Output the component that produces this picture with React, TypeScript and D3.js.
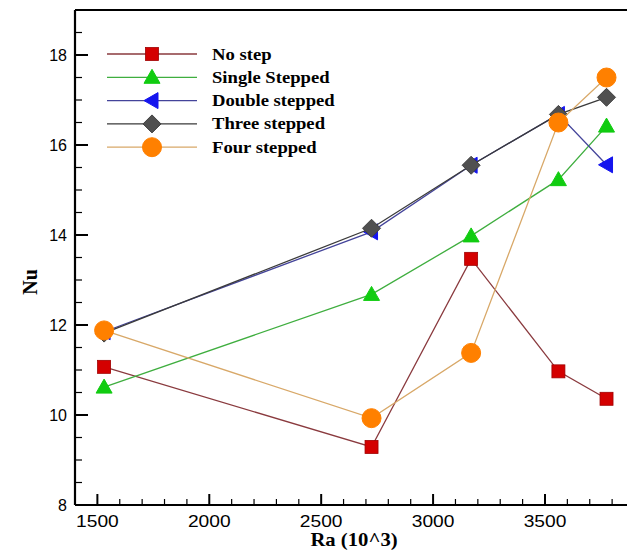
import React from "react";
import * as d3 from "d3";

const ra = [1530, 2725, 3170, 3560, 3775];
const noStep = [11.07, 9.29, 13.47, 10.97, 10.36];
const singleStepped = [10.62, 12.68, 13.98, 15.23, 16.42];
const doubleStepped = [11.85, 14.07, 15.55, 16.68, 15.56];
const threeStepped = [11.82, 14.15, 15.55, 16.68, 17.06];
const fourStepped = [11.88, 9.93, 11.38, 16.5, 17.5];
const seriesNames = ["No step", "Single Stepped", "Double stepped", "Three stepped", "Four stepped"];
const xTicks = [1500, 2000, 2500, 3000, 3500];
const yTicks = [8, 10, 12, 14, 16, 18];

const W = 627;
const H = 553;
const L = 75, T = 10, B = 505;

const series = [
  { name: seriesNames[0], values: noStep, line: "#8a3a3e", fill: "#d40000", stroke: "#a00000", shape: "square" },
  { name: seriesNames[1], values: singleStepped, line: "#3fae3f", fill: "#11cc11", stroke: "#11cc11", shape: "triangle" },
  { name: seriesNames[2], values: doubleStepped, line: "#44449a", fill: "#1515ee", stroke: "#1515ee", shape: "leftTriangle" },
  { name: seriesNames[3], values: threeStepped, line: "#3a3a3a", fill: "#505050", stroke: "#404040", shape: "diamond" },
  { name: seriesNames[4], values: fourStepped, line: "#d8a868", fill: "#ff8000", stroke: "#ff8000", shape: "circle" },
];

function Marker({ shape, x, y, fill, stroke }: any) {
  if (shape === "square") return <rect x={x - 6.5} y={y - 6.5} width={13} height={13} fill={fill} stroke={stroke} strokeWidth={0.8} />;
  if (shape === "triangle") return <path d={`M${x},${y - 8} L${x + 8},${y + 6} L${x - 8},${y + 6} Z`} fill={fill} stroke={stroke} />;
  if (shape === "leftTriangle") return <path d={`M${x - 8},${y} L${x + 6},${y - 8} L${x + 6},${y + 8} Z`} fill={fill} stroke={stroke} />;
  if (shape === "diamond") return <path d={`M${x},${y - 9} L${x + 9},${y} L${x},${y + 9} L${x - 9},${y} Z`} fill={fill} stroke={stroke} />;
  return <circle cx={x} cy={y} r={9.5} fill={fill} stroke={stroke} />;
}

export default function App() {
  const x = d3.scaleLinear().domain([1400, 3900]).range([L, L + 2500 * 0.2238]);
  const y = d3.scaleLinear().domain([8, 19]).range([B, T]);
  const xMinor = d3.range(1400, 3900, 100).filter((v) => v % 500 !== 0);
  const yMinor = d3.range(8, 19.01, 0.5).filter((v) => v % 2 !== 0);
  const line = d3.line<number>().x((_, i) => x(ra[i])).y((v) => y(v));
  const legX1 = 107, legX2 = 197, legY0 = 54, legDy = 23.3;

  return (
    <svg width={W} height={H} style={{ position: "absolute", left: 0, top: 0, background: "#fff" }}>
      <rect width={W} height={H} fill="#fff" />
      {/* frame */}
      <line x1={L} x2={W} y1={B} y2={B} stroke="#000" strokeWidth={2.2} />
      <line x1={L} x2={W} y1={T} y2={T} stroke="#000" strokeWidth={2.2} />
      <line x1={L} x2={L} y1={T} y2={B} stroke="#000" strokeWidth={2.2} />
      {xTicks.map((t) => (
        <g key={"xt" + t}>
          <line x1={x(t)} x2={x(t)} y1={B} y2={B - 11} stroke="#000" strokeWidth={2} />
          <text transform={`translate(${x(t)},${527}) scale(1.2,1)`} textAnchor="middle" fontFamily="Liberation Sans, Arial, sans-serif" fontSize={16}>{t}</text>
        </g>
      ))}
      {xMinor.map((t) => (
        <line key={"xm" + t} x1={x(t)} x2={x(t)} y1={B} y2={B - 6} stroke="#000" strokeWidth={1.2} />
      ))}
      {yTicks.map((t) => (
        <g key={"yt" + t}>
          <line x1={L} x2={L + 13} y1={y(t)} y2={y(t)} stroke="#000" strokeWidth={2} />
          <text x={67} y={y(t) + 6} textAnchor="end" fontFamily="Liberation Sans, Arial, sans-serif" fontSize={16}>{t}</text>
        </g>
      ))}
      {yMinor.map((t) => (
        <line key={"ym" + t} x1={L} x2={L + 7} y1={y(t)} y2={y(t)} stroke="#000" strokeWidth={1.2} />
      ))}
      <text transform={`translate(354,546) scale(1.15,1)`} textAnchor="middle" fontFamily="Liberation Serif, Times New Roman, serif" fontWeight="bold" fontSize={18}>Ra (10^3)</text>
      <text transform={`translate(37,282) rotate(-90)`} textAnchor="middle" fontFamily="Liberation Serif, Times New Roman, serif" fontWeight="bold" fontSize={20}>Nu</text>

      {series.map((s) => (
        <g key={s.name}>
          <path d={line(s.values) || ""} fill="none" stroke={s.line} strokeWidth={1.3} />
          {s.values.map((v, i) => (
            <Marker key={i} shape={s.shape} x={x(ra[i])} y={y(v)} fill={s.fill} stroke={s.stroke} />
          ))}
        </g>
      ))}

      {series.map((s, i) => {
        const ly = legY0 + i * legDy;
        return (
          <g key={"leg" + s.name}>
            <line x1={legX1} x2={legX2} y1={ly} y2={ly} stroke={s.line} strokeWidth={1.3} />
            <Marker shape={s.shape} x={(legX1 + legX2) / 2} y={ly} fill={s.fill} stroke={s.stroke} />
            <text transform={`translate(212,${ly + 5.5}) scale(1.13,1)`} fontFamily="Liberation Serif, Times New Roman, serif" fontWeight="bold" fontSize={16.5}>{s.name}</text>
          </g>
        );
      })}
    </svg>
  );
}
